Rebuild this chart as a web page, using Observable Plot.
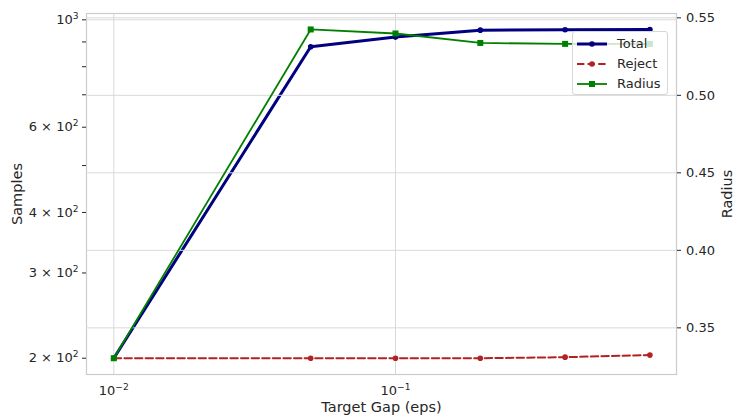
<!DOCTYPE html>
<html>
<head>
<meta charset="utf-8">
<script src="https://cdn.jsdelivr.net/npm/d3@7"></script>
<script src="https://cdn.jsdelivr.net/npm/@observablehq/plot@0.6"></script>
<style>
  html, body { margin: 0; padding: 0; background: #fff; }
  #chart { position: relative; width: 736px; height: 419px; font-family: "DejaVu Sans", sans-serif; color: #262626; }
  #chart > svg { position: absolute; left: 0; top: 0; }
  #chart .legend { position: absolute; left: 572px; top: 31px; width: 96px; height: 64px;
            background: rgba(255,255,255,0.8); border: 1px solid #d6d6d6; border-radius: 3px; box-sizing: border-box; }
  #chart .legend .row { position: absolute; left: 0; height: 20px; display: flex; align-items: center; }
  #chart .legend .row svg { position: static; margin-left: 4px; display: block; }
  #chart .legend .row span { margin-left: 10px; font-size: 13px; color: #262626; line-height: 20px; }
</style>
</head>
<body>
<div id="chart"></div>
<script>
// Sweep over the target gap
const eps = [0.01, 0.05, 0.1, 0.2, 0.4, 0.8];
const total = [200, 880, 921, 952, 954, 955];
const reject = [200, 200, 200, 200, 201, 203];
const radius = [0.3304, 0.5425, 0.5399, 0.5338, 0.5332, 0.5332];

// Axis ticks and their labels
const xTicks = [0.01, 0.1];
const xTickLabels = ["10\u207B\u00B2", "10\u207B\u00B9"];
const yTicks = [200, 300, 400, 600, 1000];
const yTickLabels = ["2 \u00D7 10\u00B2", "3 \u00D7 10\u00B2", "4 \u00D7 10\u00B2", "6 \u00D7 10\u00B2", "10\u00B3"];
const yMinorTicks = [500, 700, 800, 900];
const radiusTicks = [0.35, 0.40, 0.45, 0.50, 0.55];

const seriesNames = ["Total", "Reject", "Radius"];
const colors = {Total: "#000080", Reject: "#b22222", Radius: "#008000"};

const rows = eps.map((e, i) => ({eps: e, total: total[i], reject: reject[i], radius: radius[i]}));

const W = 736, H = 419;
const margins = {marginLeft: 86, marginRight: 60, marginTop: 13, marginBottom: 45};
const xScale = {type: "log", domain: [0.008, 0.9943]};
const style = {fontFamily: "DejaVu Sans", fontSize: "13px", color: "#262626", background: "transparent", overflow: "visible"};
const gridColor = "#d9d9d9";

const xLabelMap = new Map(xTicks.map((t, i) => [t, xTickLabels[i]]));
const yLabelMap = new Map(yTicks.map((t, i) => [t, yTickLabels[i]]));

// Samples (log) panel with the x axis
const samplesPlot = Plot.plot({
  width: W, height: H, ...margins, style,
  x: xScale,
  y: {type: "log", domain: [185.1, 1030.4]},
  marks: [
    Plot.gridX(xTicks, {stroke: gridColor, strokeOpacity: 1, strokeWidth: 1}),
    Plot.gridY([1000], {stroke: gridColor, strokeOpacity: 1, strokeWidth: 1}),
    Plot.frame({stroke: "#cccccc", strokeWidth: 1.2}),
    Plot.axisX(xTicks, {tickSize: 0, tickPadding: 11, tickFormat: d => xLabelMap.get(d), fontSize: 13, label: null}),
    Plot.axisY(yTicks, {anchor: "left", tickSize: 4, tickPadding: 4, tickFormat: d => yLabelMap.get(d), fontSize: 13, label: null}),
    Plot.axisY(yMinorTicks, {anchor: "left", tickSize: 4, tickFormat: () => "", label: null}),
    Plot.text(["Target Gap (eps)"], {frameAnchor: "bottom", dy: 32.5, text: d => d, fontSize: 14.5, textAnchor: "middle", lineAnchor: "middle", fill: "#262626"}),
    Plot.text(["Samples"], {frameAnchor: "left", dx: -69, rotate: -90, text: d => d, fontSize: 14.5, textAnchor: "middle", lineAnchor: "middle", fill: "#262626"}),
    Plot.line(rows, {x: "eps", y: "total", stroke: colors.Total, strokeWidth: 3}),
    Plot.dot(rows, {x: "eps", y: "total", r: 2.8, fill: colors.Total, stroke: null}),
    Plot.line(rows, {x: "eps", y: "reject", stroke: colors.Reject, strokeWidth: 2, strokeDasharray: "7.4,3.2"}),
    Plot.dot(rows, {x: "eps", y: "reject", r: 2.8, fill: colors.Reject, stroke: null})
  ]
});

// Radius (linear) panel on the right axis
const radiusPlot = Plot.plot({
  width: W, height: H, ...margins, style,
  x: {...xScale, axis: null},
  y: {domain: [0.3199, 0.5528]},
  marks: [
    Plot.gridY(radiusTicks, {stroke: gridColor, strokeOpacity: 1, strokeWidth: 1}),
    Plot.axisY(radiusTicks, {anchor: "right", tickSize: 4, tickPadding: 5.5, tickFormat: d => d.toFixed(2), fontSize: 13, label: null}),
    Plot.text(["Radius"], {frameAnchor: "right", dx: 51, rotate: -90, text: d => d, fontSize: 14.5, textAnchor: "middle", lineAnchor: "middle", fill: "#262626"}),
    Plot.line(rows, {x: "eps", y: "radius", stroke: colors.Radius, strokeWidth: 1.8}),
    Plot.dot(rows, {x: "eps", y: "radius", r: 3.4, symbol: "square", fill: colors.Radius, stroke: null})
  ]
});

// Typeset exponents in tick labels as raised, smaller text
const supMap = {"\u207B": "\u2212", "\u00B9": "1", "\u00B2": "2", "\u00B3": "3"};
function typesetExponents(svg) {
  svg.querySelectorAll("text").forEach(t => {
    const s = t.textContent;
    const k = [...s].findIndex(c => c in supMap);
    if (k < 0) return;
    const chars = [...s];
    const base = chars.slice(0, k).join("");
    const sup = chars.slice(k).map(c => supMap[c] ?? c).join("");
    t.textContent = "";
    const ns = "http://www.w3.org/2000/svg";
    const a = document.createElementNS(ns, "tspan");
    a.textContent = base;
    const b = document.createElementNS(ns, "tspan");
    b.textContent = sup;
    b.setAttribute("font-size", "0.7em");
    b.setAttribute("dy", "-0.55em");
    t.appendChild(a);
    t.appendChild(b);
  });
}
typesetExponents(samplesPlot);

const chart = document.getElementById("chart");
chart.appendChild(samplesPlot);
chart.appendChild(radiusPlot);

// Legend
const legend = document.createElement("div");
legend.className = "legend";
const handles = {
  Total: {width: 3, dash: null, marker: "circle"},
  Reject: {width: 2, dash: "7.4,3.2", marker: "circle"},
  Radius: {width: 1.8, dash: null, marker: "square"}
};
seriesNames.forEach((name, i) => {
  const h = handles[name];
  const row = document.createElement("div");
  row.className = "row";
  row.style.top = (1.5 + i * 20) + "px";
  const marker = h.marker === "circle"
    ? `<circle cx="15" cy="10" r="2.8" fill="${colors[name]}"/>`
    : `<rect x="12" y="7" width="6" height="6" fill="${colors[name]}"/>`;
  row.innerHTML = `<svg width="30" height="20"><line x1="0" x2="30" y1="10" y2="10" stroke="${colors[name]}" stroke-width="${h.width}" ${h.dash ? `stroke-dasharray="${h.dash}"` : ""}/>${marker}</svg><span>${name}</span>`;
  legend.appendChild(row);
});
chart.appendChild(legend);
</script>
</body>
</html>
